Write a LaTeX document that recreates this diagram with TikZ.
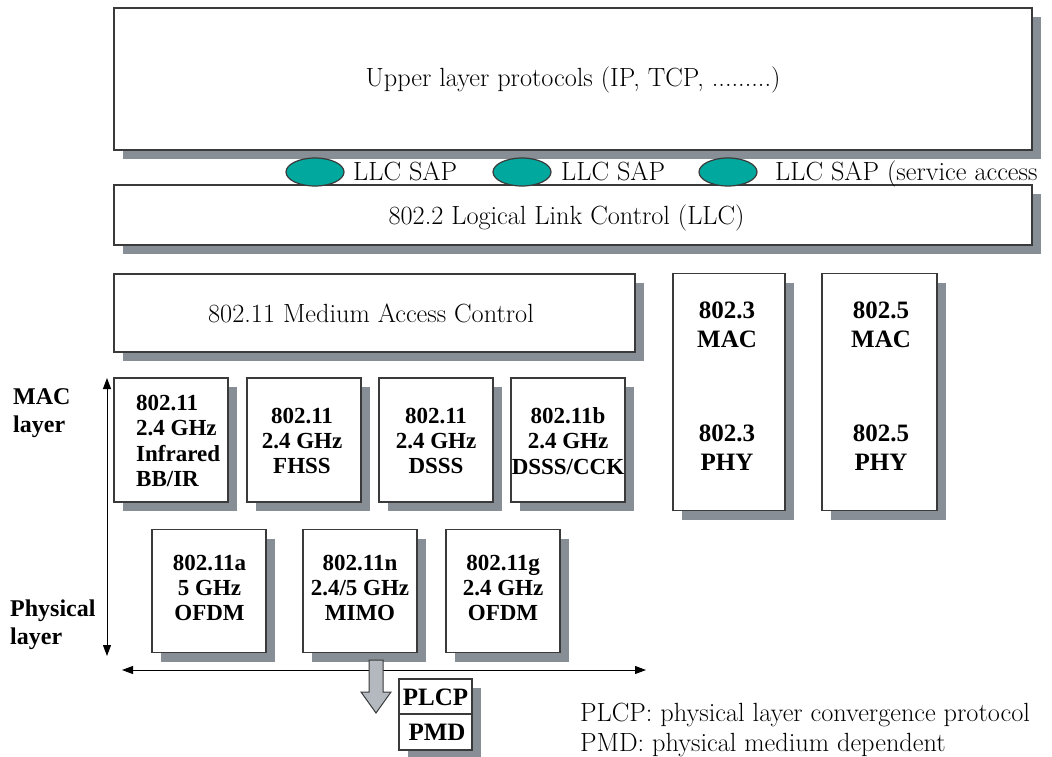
\documentclass[tikz,border=0pt]{standalone}
\usepackage{fontspec}
\newfontfamily\tb{Liberation Serif}
\usetikzlibrary{shadows,arrows.meta,shapes.geometric}
\definecolor{shd}{HTML}{878E96}
\definecolor{bord}{HTML}{3A3A3A}
\definecolor{teal}{HTML}{00A89E}
\definecolor{arrowgray}{HTML}{B4B9C0}
\begin{document}
\begin{tikzpicture}[x=1pt,y=-1pt,
  box/.style={draw=bord, line width=1.2pt, fill=white, inner sep=0pt,
    drop shadow={shadow xshift=9pt, shadow yshift=-9pt, fill=shd, opacity=1}},
  reg/.style={font=\fontsize{26.3}{30}\selectfont, inner sep=0pt},
  bt/.style={font=\tb\bfseries\fontsize{23}{25.3}\selectfont, align=center, inner sep=0pt},
  btl/.style={font=\tb\bfseries\fontsize{25}{29}\selectfont, align=center, inner sep=0pt},
  lab/.style={font=\tb\bfseries\fontsize{24}{28.5}\selectfont, align=left, inner sep=0pt},
  sap/.style={ellipse, draw=bord, line width=1.2pt, fill=teal, minimum width=58pt, minimum height=28pt, inner sep=0pt},
  dbl/.style={{Triangle[length=11pt,width=8pt]}-{Triangle[length=11pt,width=8pt]}, line width=1pt, black}
]
\useasboundingbox (0,0) rectangle (1052,756);

% upper layers
\node[box, minimum width=918pt, minimum height=142pt] (upper) at (573,79) {};
\node[reg] (uppert) at (573,80) {Upper layer protocols (IP, TCP, .........)};

% LLC
\node[box, minimum width=918pt, minimum height=60pt] (llc) at (573,215) {};
\node[reg] (llct) at (566.5,218) {802.2 Logical Link Control (LLC)};

% SAPs
\node[sap] (sap1) at (315,172) {};
\node[sap] (sap2) at (522,172) {};
\node[sap] (sap3) at (728,172) {};
\node[reg, anchor=base west] (sapt1) at (353,180) {LLC SAP};
\node[reg, anchor=base west] (sapt2) at (561,180) {LLC SAP};
\node[reg, anchor=base west] (sapt3) at (775,180) {LLC SAP (service access};

% MAC
\node[box, minimum width=521pt, minimum height=78pt] (mac) at (374.5,313) {};
\node[reg] (mact) at (371,313) {802.11 Medium Access Control};

% 802.3 / 802.5
\node[box, minimum width=112pt, minimum height=237pt] (e3) at (729,392) {};
\node[btl] (e3a) at (727,325) {802.3\\MAC};
\node[btl] (e3b) at (727,448) {802.3\\PHY};
\node[box, minimum width=115pt, minimum height=237pt] (e5) at (879.5,392) {};
\node[btl] (e5a) at (881,325) {802.5\\MAC};
\node[btl] (e5b) at (881,448) {802.5\\PHY};

% row 1 PHYs
\node[box, minimum width=114pt, minimum height=124pt] (p1) at (171,440) {};
\node[bt, align=left, anchor=west] (p1t) at (136,441) {802.11\\2.4 GHz\\Infrared\\BB/IR};
\node[box, minimum width=114pt, minimum height=124pt] (p2) at (304,440) {};
\node[bt] (p2t) at (302,441) {802.11\\2.4 GHz\\FHSS};
\node[box, minimum width=114pt, minimum height=124pt] (p3) at (436,440) {};
\node[bt] (p3t) at (436,441) {802.11\\2.4 GHz\\DSSS};
\node[box, minimum width=114pt, minimum height=124pt] (p4) at (568,440) {};
\node[bt] (p4t) at (568,441) {802.11b\\2.4 GHz\\DSSS/CCK};

% row 2 PHYs
\node[box, minimum width=114pt, minimum height=123pt] (q1) at (209,591) {};
\node[bt] (q1t) at (209.5,588) {802.11a\\5 GHz\\OFDM};
\node[box, minimum width=114pt, minimum height=123pt] (q2) at (360,591) {};
\node[bt] (q2t) at (360,588) {802.11n\\2.4/5 GHz\\MIMO};
\node[box, minimum width=114pt, minimum height=123pt] (q3) at (503,591) {};
\node[bt] (q3t) at (503,588) {802.11g\\2.4 GHz\\OFDM};

% layer labels
\node[lab, anchor=west] (maclab) at (13,413) {MAC\\layer};
\node[lab, anchor=west] (phylab) at (10,625) {Physical\\layer};

% arrows
\coordinate (vt) at (107,378);
\coordinate (vb) at (107,656);
\draw[dbl] (vt) -- (vb);
\coordinate (hl) at (122,670);
\coordinate (hr) at (646,670);
\draw[dbl] (hl) -- (hr);

% PLCP / PMD
\node[box, minimum width=73pt, minimum height=71pt] (pp) at (435.5,714.5) {};
\node[font=\tb\bfseries\fontsize{25}{27}\selectfont, inner sep=0pt] (plcp) at (435.5,697) {PLCP};
\node[font=\tb\bfseries\fontsize{25}{27}\selectfont, inner sep=0pt] (pmd) at (437,732) {PMD};
\draw[bord, line width=1.2pt] (pp.west |- 0,714) -- (pp.east |- 0,714);

% block arrow
\filldraw[fill=arrowgray, draw=bord, line width=1pt]
  (369,660) -- (383,660) -- (383,692) -- (391,692) -- (376,713) -- (361,692) -- (369,692) -- cycle;

% legend
\node[reg, anchor=west] (leg1) at (580,715) {PLCP: physical layer convergence protocol};
\node[reg, anchor=west] (leg2) at (580,745) {PMD: physical medium dependent};
\end{tikzpicture}
\end{document}
